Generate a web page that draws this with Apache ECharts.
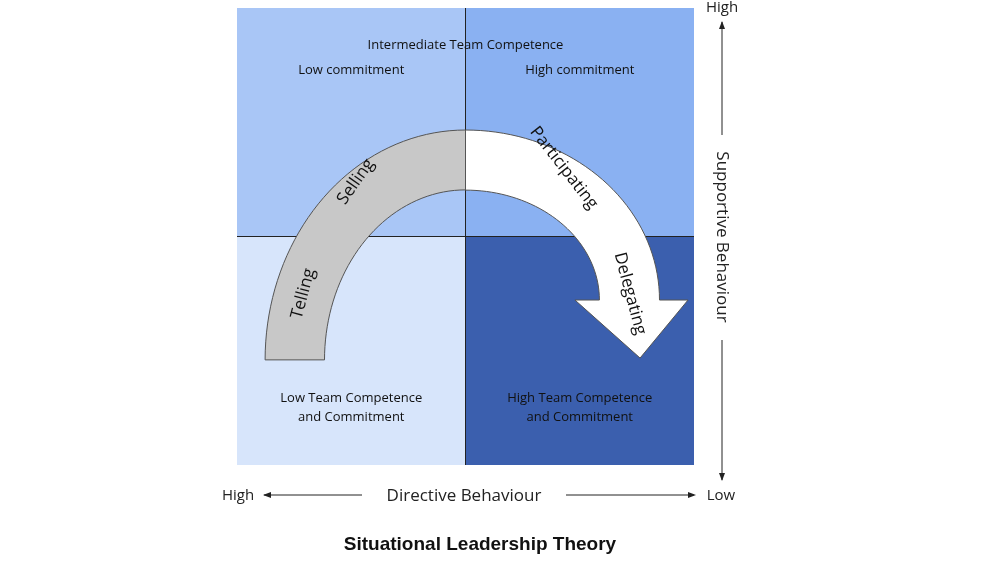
<!DOCTYPE html>
<html><head><meta charset="utf-8">
<script src="https://cdn.jsdelivr.net/npm/echarts@6/dist/echarts.min.js"></script>
<style>html,body{margin:0;background:#fff}#c{width:1000px;height:563px}</style>
</head><body><div id="c"></div>
<script>
// quadrants: [x0, y0, colour]
var quadrants = [[0, 1, '#a9c6f6'], [1, 1, '#8ab1f2'], [0, 0, '#d7e5fb'], [1, 0, '#3b5fae']];
var quadLabels = [
  [1.0, 1.838, 'Intermediate Team Competence'],
  [0.5, 1.729, 'Low commitment'],
  [1.5, 1.729, 'High commitment'],
  [0.5, 0.25, 'Low Team Competence\nand Commitment'],
  [1.5, 0.25, 'High Team Competence\nand Commitment']
];
// style words along the arrow: [x, y, rotation deg, text]
var styleWords = [
  [0.29, 0.75, 75, 'Telling'],
  [0.52, 1.24, 55, 'Selling'],
  [1.43, 1.30, -52, 'Participating'],
  [1.72, 0.75, -75, 'Delegating']
];

var myChart = echarts.init(document.getElementById('c'));

function arcPts(api, cx, cy, rx, ry, a0, a1, n) {
  var pts = [];
  for (var i = 0; i <= n; i++) {
    var a = a0 + (a1 - a0) * i / n;
    pts.push(api.coord([cx + rx * Math.cos(a), cy + ry * Math.sin(a)]));
  }
  return pts;
}

option = {
  animation: false,
  grid: {left: 237, right: 306, top: 8, bottom: 98},
  xAxis: {type: 'value', min: 0, max: 2, show: false},
  yAxis: {type: 'value', min: 0, max: 2, show: false},
  series: [{
    type: 'custom',
    data: quadrants,
    renderItem: function(params, api) {
      var p0 = api.coord([api.value(0), api.value(1) + 1]);
      var p1 = api.coord([api.value(0) + 1, api.value(1)]);
      return {type: 'rect', shape: {x: p0[0], y: p0[1], width: p1[0] - p0[0], height: p1[1] - p0[1]},
        style: {fill: quadrants[params.dataIndex][2]}};
    }
  }, {
    type: 'custom',
    data: [[0]],
    z: 3,
    renderItem: function(params, api) {
      var h = api.coord([0, 1]), h2 = api.coord([2, 1]);
      var v = api.coord([1, 0]), v2 = api.coord([1, 2]);
      // gray arc (left half)
      var gOut = [api.coord([0.123, 0.46])].concat(arcPts(api, 1, 0.46, 0.877, 1.006, Math.PI, Math.PI / 2, 40));
      var gIn = arcPts(api, 1, 0.46, 0.617, 0.744, Math.PI / 2, Math.PI, 40).concat([api.coord([0.383, 0.46])]);
      // white arrow (right half)
      var wOut = arcPts(api, 1, 0.722, 0.849, 0.744, Math.PI / 2, 0, 40);
      var wIn = arcPts(api, 1, 0.722, 0.586, 0.481, 0, Math.PI / 2, 40);
      var head = [api.coord([1.974, 0.722]), api.coord([1.764, 0.468]), api.coord([1.479, 0.722])];
      var white = wOut.concat(head, wIn);
      return {type: 'group', children: [
        {type: 'line', shape: {x1: h[0], y1: h[1], x2: h2[0], y2: h2[1]}, style: {stroke: '#222', lineWidth: 1}},
        {type: 'line', shape: {x1: v[0], y1: v[1], x2: v2[0], y2: v2[1]}, style: {stroke: '#222', lineWidth: 1}},
        {type: 'polygon', shape: {points: gOut.concat(gIn)}, style: {fill: '#c8c8c8', stroke: '#555', lineWidth: 1}},
        {type: 'polygon', shape: {points: white}, style: {fill: '#ffffff', stroke: '#555', lineWidth: 1}}
      ]};
    }
  }, {
    type: 'custom',
    data: quadLabels,
    z: 4,
    renderItem: function(params, api) {
      var p = api.coord([api.value(0), api.value(1)]);
      return {type: 'text', x: p[0], y: p[1], style: {text: quadLabels[params.dataIndex][2], align: 'center',
        verticalAlign: 'middle', fill: '#111', font: '13px "Open Sans"', lineHeight: 19}};
    }
  }, {
    type: 'custom',
    data: styleWords,
    z: 5,
    renderItem: function(params, api) {
      var p = api.coord([api.value(0), api.value(1)]);
      return {type: 'text', x: p[0], y: p[1], rotation: styleWords[params.dataIndex][2] * Math.PI / 180,
        style: {text: styleWords[params.dataIndex][3], align: 'center', verticalAlign: 'middle',
          fill: '#111', font: '17px "Open Sans"'}};
    }
  }],
  graphic: [
    {type: 'text', x: 722, y: 8, style: {text: 'High', align: 'center', verticalAlign: 'middle', font: '15px "Open Sans"', fill: '#222'}},
    {type: 'line', shape: {x1: 722, y1: 22, x2: 722, y2: 135}, style: {stroke: '#222', lineWidth: 1}},
    {type: 'polygon', shape: {points: [[722, 21], [719, 29], [725, 29]]}, style: {fill: '#222'}},
    {type: 'text', x: 722, y: 237, rotation: -Math.PI / 2, style: {text: 'Supportive Behaviour', align: 'center', verticalAlign: 'middle', font: '17px "Open Sans"', fill: '#222'}},
    {type: 'line', shape: {x1: 722, y1: 340, x2: 722, y2: 480}, style: {stroke: '#222', lineWidth: 1}},
    {type: 'polygon', shape: {points: [[722, 481], [719, 473], [725, 473]]}, style: {fill: '#222'}},
    {type: 'text', x: 238, y: 496, style: {text: 'High', align: 'center', verticalAlign: 'middle', font: '15px "Open Sans"', fill: '#222'}},
    {type: 'line', shape: {x1: 264, y1: 495, x2: 362, y2: 495}, style: {stroke: '#222', lineWidth: 1}},
    {type: 'polygon', shape: {points: [[263, 495], [271, 492], [271, 498]]}, style: {fill: '#222'}},
    {type: 'text', x: 464, y: 496, style: {text: 'Directive Behaviour', align: 'center', verticalAlign: 'middle', font: '17px "Open Sans"', fill: '#222'}},
    {type: 'line', shape: {x1: 566, y1: 495, x2: 694, y2: 495}, style: {stroke: '#222', lineWidth: 1}},
    {type: 'polygon', shape: {points: [[696, 495], [688, 492], [688, 498]]}, style: {fill: '#222'}},
    {type: 'text', x: 721, y: 496, style: {text: 'Low', align: 'center', verticalAlign: 'middle', font: '15px "Open Sans"', fill: '#222'}},
    {type: 'text', x: 480, y: 545, style: {text: 'Situational Leadership Theory', align: 'center', verticalAlign: 'middle', font: 'bold 19px "Liberation Sans", Arial, sans-serif', fill: '#111'}}
  ]
};
myChart.setOption(option);
</script></body></html>
